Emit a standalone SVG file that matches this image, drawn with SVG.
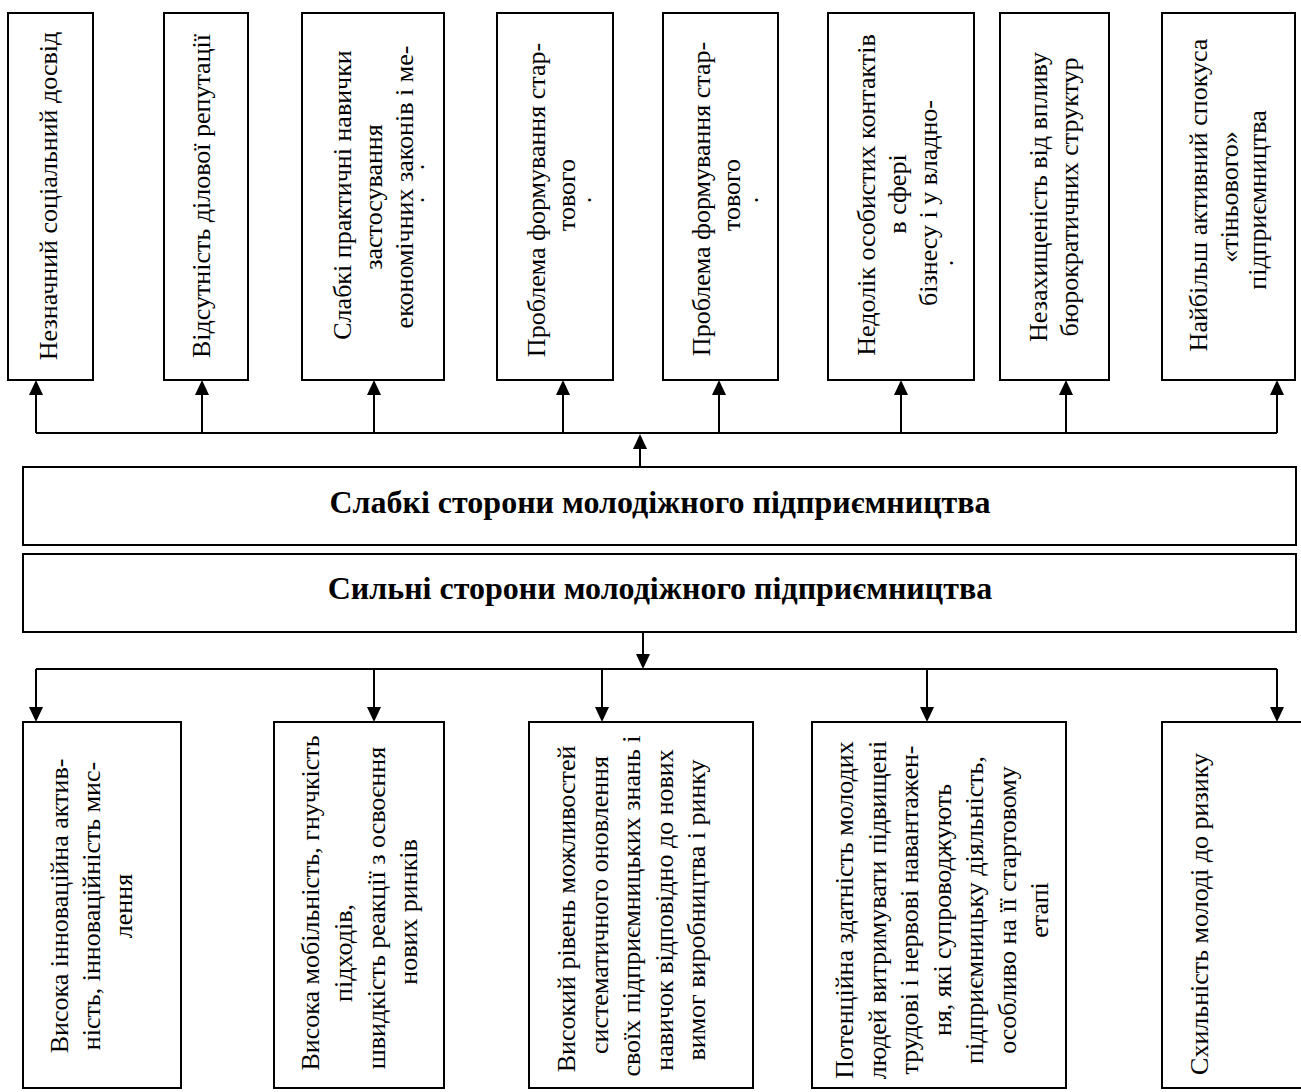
<svg xmlns="http://www.w3.org/2000/svg" width="1301" height="1092" viewBox="0 0 1301 1092">
<style>
  .box { fill: #fff; stroke: #000; stroke-width: 2; }
  .t { font-family: "Liberation Serif", "Times New Roman", serif; font-size: 26px; fill: #000; text-anchor: middle; }
  .h { font-family: "Liberation Serif", "Times New Roman", serif; font-size: 32px; font-weight: bold; fill: #000; text-anchor: middle; }
  .c { fill: none; stroke: #000; stroke-width: 2; }
</style>
<defs>
  <marker id="ah" markerUnits="userSpaceOnUse" markerWidth="15" markerHeight="14" refX="0" refY="7" orient="auto" viewBox="0 0 15 14">
    <path d="M0,0 L15,7 L0,14 Z" fill="#000"/>
  </marker>
</defs>
<rect width="1301" height="1092" fill="#fff"/>

<g id="connectors">
  <path class="c" d="M36,433 H1277"/>
  <path class="c" d="M36,433 V395" marker-end="url(#ah)"/>
  <path class="c" d="M202,433 V395" marker-end="url(#ah)"/>
  <path class="c" d="M374,433 V395" marker-end="url(#ah)"/>
  <path class="c" d="M563,433 V395" marker-end="url(#ah)"/>
  <path class="c" d="M719,433 V395" marker-end="url(#ah)"/>
  <path class="c" d="M901,433 V395" marker-end="url(#ah)"/>
  <path class="c" d="M1066,433 V395" marker-end="url(#ah)"/>
  <path class="c" d="M1277,433 V395" marker-end="url(#ah)"/>
  <path class="c" d="M640,466 V449" marker-end="url(#ah)"/>
  <path class="c" d="M643,632 V654" marker-end="url(#ah)"/>
  <path class="c" d="M36,669 H1277"/>
  <path class="c" d="M36,669 V707" marker-end="url(#ah)"/>
  <path class="c" d="M374,669 V707" marker-end="url(#ah)"/>
  <path class="c" d="M602,669 V707" marker-end="url(#ah)"/>
  <path class="c" d="M927,669 V707" marker-end="url(#ah)"/>
  <path class="c" d="M1277,669 V707" marker-end="url(#ah)"/>
</g>

<g id="w1">
  <rect class="box" x="8" y="13" width="85" height="367"/>
  <text class="t" transform="translate(57,196) rotate(-90)">Незначний соціальний досвід</text>
</g>
<g id="w2">
  <rect class="box" x="164" y="13" width="84" height="367"/>
  <text class="t" transform="translate(210,196) rotate(-90)">Відсутність ділової репутації</text>
</g>
<g id="w3">
  <rect class="box" x="302" y="13" width="142" height="367"/>
  <text class="t" transform="translate(351,195) rotate(-90)">Слабкі практичні навички</text>
  <text class="t" transform="translate(382,197) rotate(-90)">застосування</text>
  <text class="t" transform="translate(413,187) rotate(-90)">економічних законів і ме-</text>
  <text class="t" transform="translate(424,167) rotate(-90)">.</text>
  <text class="t" transform="translate(424,200) rotate(-90)">.</text>
</g>
<g id="w4">
  <rect class="box" x="497" y="13" width="116" height="367"/>
  <text class="t" transform="translate(545,200) rotate(-90)">Проблема формування стар-</text>
  <text class="t" transform="translate(575,195) rotate(-90)">тового</text>
  <text class="t" transform="translate(591,200) rotate(-90)">.</text>
</g>
<g id="w5">
  <rect class="box" x="663" y="13" width="115" height="367"/>
  <text class="t" transform="translate(710,199) rotate(-90)">Проблема формування стар-</text>
  <text class="t" transform="translate(740,195) rotate(-90)">тового</text>
  <text class="t" transform="translate(758,200) rotate(-90)">.</text>
</g>
<g id="w6">
  <rect class="box" x="828" y="13" width="146" height="367"/>
  <text class="t" transform="translate(875,195) rotate(-90)">Недолік особистих контактів</text>
  <text class="t" transform="translate(906,194) rotate(-90)">в сфері</text>
  <text class="t" transform="translate(937,203) rotate(-90)">бізнесу і у владно-</text>
  <text class="t" transform="translate(953,263) rotate(-90)">.</text>
</g>
<g id="w7">
  <rect class="box" x="1000" y="13" width="109" height="367"/>
  <text class="t" transform="translate(1047,197) rotate(-90)">Незахищеність від впливу</text>
  <text class="t" transform="translate(1078,197) rotate(-90)">бюрократичних структур</text>
</g>
<g id="w8">
  <rect class="box" x="1162" y="13" width="133" height="367"/>
  <text class="t" transform="translate(1207,195) rotate(-90)">Найбільш активний спокуса</text>
  <text class="t" transform="translate(1238,197) rotate(-90)">«тіньового»</text>
  <text class="t" transform="translate(1266,200) rotate(-90)">підприємництва</text>
</g>

<g id="weak">
  <rect class="box" x="23" y="467" width="1273" height="78"/>
  <text class="h" x="660" y="513">Слабкі сторони молодіжного підприємництва</text>
</g>
<g id="strong">
  <rect class="box" x="23" y="554" width="1273" height="78"/>
  <text class="h" x="660" y="599">Сильні сторони молодіжного підприємництва</text>
</g>

<g id="s1">
  <rect class="box" x="23" y="722" width="158" height="366"/>
  <text class="t" transform="translate(68,906) rotate(-90)">Висока інноваційна актив-</text>
  <text class="t" transform="translate(100,906) rotate(-90)">ність,  інноваційність мис-</text>
  <text class="t" transform="translate(132,906) rotate(-90)">лення</text>
</g>
<g id="s2">
  <rect class="box" x="274" y="722" width="170" height="366"/>
  <text class="t" transform="translate(319,903) rotate(-90)">Висока мобільність, гнучкість</text>
  <text class="t" transform="translate(352,953) rotate(-90)">підходів,</text>
  <text class="t" transform="translate(385,908) rotate(-90)">швидкість реакції з освоєння</text>
  <text class="t" transform="translate(417,912) rotate(-90)">нових ринків</text>
</g>
<g id="s3">
  <rect class="box" x="529" y="722" width="224" height="366"/>
  <text class="t" transform="translate(575,909) rotate(-90)">Високий рівень можливостей</text>
  <text class="t" transform="translate(608,905) rotate(-90)">систематичного оновлення</text>
  <text class="t" transform="translate(640,906) rotate(-90)">своїх підприємницьких знань і</text>
  <text class="t" transform="translate(673,910) rotate(-90)">навичок відповідно до нових</text>
  <text class="t" transform="translate(705,910) rotate(-90)">вимог виробництва і ринку</text>
</g>
<g id="s4">
  <rect class="box" x="812" y="722" width="254" height="366"/>
  <text class="t" transform="translate(853,910) rotate(-90)">Потенційна здатність молодих</text>
  <text class="t" transform="translate(886,910) rotate(-90)">людей витримувати підвищені</text>
  <text class="t" transform="translate(918,910) rotate(-90)">трудові і нервові навантажен-</text>
  <text class="t" transform="translate(951,910) rotate(-90)">ня, які супроводжують</text>
  <text class="t" transform="translate(983,910) rotate(-90)">підприємницьку діяльність,</text>
  <text class="t" transform="translate(1016,910) rotate(-90)">особливо на її стартовому</text>
  <text class="t" transform="translate(1048,910) rotate(-90)">етапі</text>
</g>
<g id="s5">
  <rect class="box" x="1162" y="722" width="150" height="366"/>
  <text class="t" transform="translate(1208,914) rotate(-90)">Схильність молоді до ризику</text>
</g>
</svg>
